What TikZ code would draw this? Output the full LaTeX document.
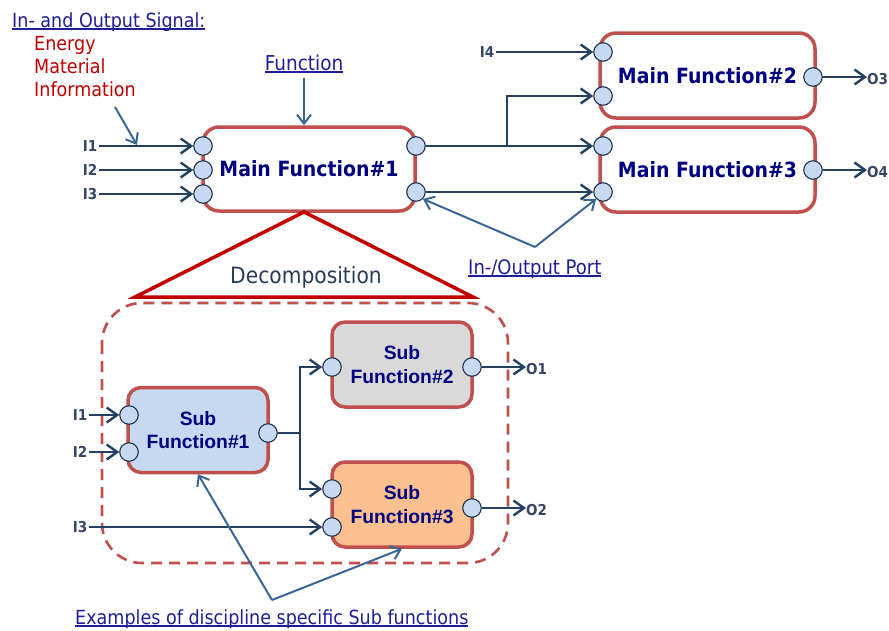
\documentclass[tikz,border=0pt]{standalone}
\usepackage{fontspec}
\setmainfont[FakeStretch=0.9]{DejaVu Sans}
\newfontfamily\subfont{Liberation Sans}
\usetikzlibrary{arrows.meta}

\definecolor{boxred}{RGB}{192,80,77}
\definecolor{trired}{RGB}{192,0,0}
\definecolor{fnnavy}{RGB}{0,0,128}
\definecolor{sigline}{RGB}{36,64,97}
\definecolor{pointline}{RGB}{59,101,148}
\definecolor{portfill}{RGB}{198,217,241}
\definecolor{portline}{RGB}{30,50,80}
\definecolor{labgray}{RGB}{55,70,100}
\definecolor{decotext}{RGB}{40,60,90}
\definecolor{subblue}{RGB}{198,217,241}
\definecolor{subgray}{RGB}{217,217,217}
\definecolor{suborange}{RGB}{250,192,144}
\definecolor{sigred}{RGB}{192,0,0}
\definecolor{ulblue}{RGB}{30,30,150}

% underlined label text with a solid rule
\newcommand{\ulin}[1]{\leavevmode\setbox0\hbox{#1}\rlap{\rule[-2.6pt]{\wd0}{1.4pt}}\box0}

\tikzset{
  mainbox/.style={draw=boxred, line width=3.5pt, rounded corners=16pt,
    minimum width=212pt, minimum height=84pt, inner sep=0pt, text=fnnavy,
    font=\fontsize{21}{24}\selectfont\bfseries},
  subbox/.style={draw=boxred, line width=3.5pt, rounded corners=13pt,
    minimum width=140pt, minimum height=85pt, inner sep=0pt, align=center,
    text=fnnavy, font=\subfont\fontsize{19.3}{23.5}\selectfont\bfseries},
  port/.style={circle, draw=portline, line width=1.1pt, fill=portfill,
    minimum size=18.5pt, inner sep=0pt},
  sig/.style={draw=sigline, line width=2.4pt,
    -{Straight Barb[length=10.5pt,width=15pt]}},
  pointer/.style={draw=pointline, line width=2pt,
    -{Straight Barb[length=9pt,width=14pt]}},
  iolab/.style={text=labgray, font=\fontsize{15}{17}\selectfont\bfseries, inner sep=2pt},
  ullab/.style={text=ulblue, font=\fontsize{19.5}{22}\selectfont, inner sep=0pt},
  redlab/.style={text=sigred, font=\fontsize{19.5}{22}\selectfont, inner sep=0pt, anchor=base west},
}

\begin{document}
\begin{tikzpicture}[x=1pt, y=-1pt]
\useasboundingbox (0,0) rectangle (889,630);

% ---------- top level: main functions ----------
\node[mainbox] (mf1) at (309,169) {Main Function\#1};
\node[mainbox, minimum width=215pt, minimum height=85pt] (mf2) at (707.5,75.5) {Main Function\#2};
\node[mainbox, minimum width=215pt, minimum height=85pt] (mf3) at (707.5,169.5) {Main Function\#3};

\node[port] (mf1i1) at (203,146) {};
\node[port] (mf1i2) at (203,170) {};
\node[port] (mf1i3) at (203,194) {};
\node[port] (mf1o1) at (416,146) {};
\node[port] (mf1o2) at (416,192) {};
\node[port] (mf2i1) at (603,52) {};
\node[port] (mf2i2) at (603,96) {};
\node[port] (mf2o) at (813,77) {};
\node[port] (mf3i1) at (603,146) {};
\node[port] (mf3i2) at (603,192) {};
\node[port] (mf3o) at (813,170) {};

% signal labels
\node[iolab] (ti1) at (90,146) {I1};
\node[iolab] (ti2) at (90,170) {I2};
\node[iolab] (ti3) at (90,194) {I3};
\node[iolab] (ti4) at (487,52) {I4};
\node[iolab, anchor=west, inner sep=0pt] (to3) at (867,79) {O3};
\node[iolab, anchor=west, inner sep=0pt] (to4) at (867,172) {O4};

\draw[sig] (ti1) -- (mf1i1);
\draw[sig] (ti2) -- (mf1i2);
\draw[sig] (ti3) -- (mf1i3);
\draw[sig] (ti4) -- (mf2i1);
\draw[sig] (mf2o) -- (to3.west |- mf2o);
\draw[sig] (mf3o) -- (to4.west |- mf3o);

\coordinate (br) at (507,146);
\draw[sig] (mf1o1) -- (mf3i1);
\draw[sig] (br) |- (mf2i2);
\draw[sig] (mf1o2) -- (mf3i2);

% explanatory labels
\node[ullab, anchor=base west] (sigtitle) at (12,27) {\ulin{In- and Output Signal:}};
\node[redlab] (energy) at (34,50) {Energy};
\node[redlab] (material) at (34,73) {Material};
\node[redlab] (information) at (34,96) {Information};
\coordinate (sigtail) at (115,107);
\coordinate (sighead) at (137,145);
\draw[pointer] (sigtail) -- (sighead);

\node[ullab, anchor=base, font=\fontsize{20.5}{22}\selectfont] (fnlab) at (304,70) {\ulin{Function}};
\coordinate (fntail) at (304,78);
\draw[pointer] (fntail) -- (fntail |- mf1.north);

\node[ullab, anchor=base west, font=\fontsize{20}{22}\selectfont] (portlab) at (468,274) {\ulin{In-/Output Port}};
\coordinate (porttail) at (535,247);
\draw[pointer] (porttail) -- (mf1o2.south east);
\draw[pointer] (porttail) -- (mf3i2.south west);

% ---------- decomposition ----------
\draw[trired, line width=3.5pt, line join=miter] (304,212) -- (135,297) -- (473,297) -- cycle;
\node[text=decotext, font=\fontsize{22.5}{24}\selectfont, anchor=base, inner sep=0pt] (deco) at (306,283) {Decomposition};

\draw[boxred, line width=2.6pt, dash pattern=on 11pt off 7pt, rounded corners=40pt]
  (102,303) rectangle (508,563);

\node[subbox, fill=subblue] (sf1) at (198,430) {Sub\\Function\#1};
\node[subbox, fill=subgray] (sf2) at (402,364.5) {Sub\\Function\#2};
\node[subbox, fill=suborange] (sf3) at (402,504.5) {Sub\\Function\#3};

\node[port] (sf1i1) at (129,415) {};
\node[port] (sf1i2) at (129,452) {};
\node[port] (sf1o) at (268,433) {};
\node[port] (sf2i) at (332,367) {};
\node[port] (sf2o) at (472,367) {};
\node[port] (sf3i1) at (332,489) {};
\node[port] (sf3i2) at (332,527) {};
\node[port] (sf3o) at (472,508) {};

\node[iolab] (si1) at (80,415) {I1};
\node[iolab] (si2) at (80,452) {I2};
\node[iolab] (si3) at (80,527) {I3};
\node[iolab, anchor=west, inner sep=0pt] (so1) at (526,369) {O1};
\node[iolab, anchor=west, inner sep=0pt] (so2) at (526,510) {O2};

\draw[sig] (si1) -- (sf1i1);
\draw[sig] (si2) -- (sf1i2);
\draw[sig] (si3) -- (sf3i2);
\draw[sig] (sf2o) -- (so1.west |- sf2o);
\draw[sig] (sf3o) -- (so2.west |- sf3o);

\coordinate (sbr) at (300,433);
\draw[sig] (sf1o) -- (sbr) |- (sf2i);
\draw[sig] (sbr) |- (sf3i1);

\node[ullab, anchor=base west, font=\fontsize{19.5}{22}\selectfont] (exlab) at (75,624) {\ulin{Examples of discipline specific Sub functions}};
\coordinate (extail) at (272,600);
\draw[pointer] (extail) -- (sf1.south);
\draw[pointer] (extail) -- (sf3.south);
\end{tikzpicture}
\end{document}
